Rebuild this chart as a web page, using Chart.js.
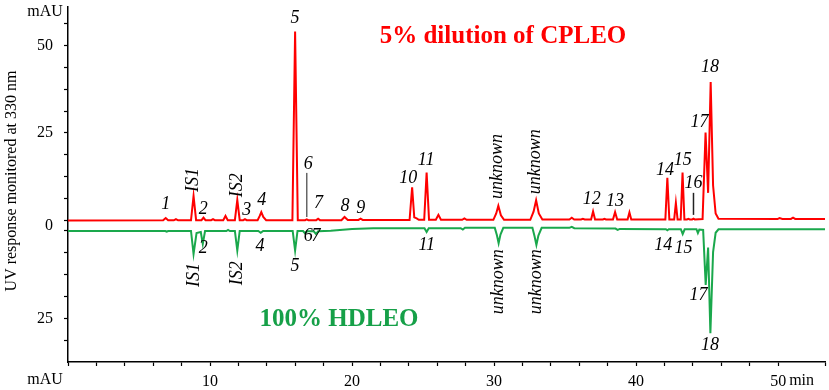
<!DOCTYPE html>
<html>
<head>
<meta charset="utf-8">
<script src="https://cdn.jsdelivr.net/npm/chart.js@4.4.1/dist/chart.umd.min.js"></script>
<style>
  html, body { margin: 0; padding: 0; background: #fff; }
  #wrap { width: 829px; height: 390px; }
</style>
</head>
<body>
<div id="wrap"><canvas id="chart" width="829" height="390"></canvas></div>
<script>
// retention time (min) and signal (mAU)
const redTime = [0, 6.70, 6.88, 7.05, 7.45, 7.6, 7.75, 8.66, 8.84, 9.02, 9.40, 9.54, 9.68, 10.08, 10.21, 10.34,
  10.93, 11.09, 11.25, 11.75, 11.92, 12.09, 12.34, 12.46, 12.58, 13.35, 13.5, 13.61, 13.75, 13.95,
  15.80, 15.99, 16.18, 16.7, 16.81, 16.92, 17.48, 17.61, 17.74, 19.25, 19.47, 19.7, 20.45, 20.6, 20.75,
  24.05, 24.23, 24.38, 24.55, 24.7, 25.08, 25.25, 25.42, 25.9, 26.08, 26.26, 27.75, 27.91, 28.07,
  29.95, 30.15, 30.3, 30.48, 30.7, 32.55, 32.78, 32.96, 33.15, 33.4, 35.3, 35.47, 35.64, 36.12, 36.25, 36.38,
  36.83, 36.97, 37.11, 37.66, 37.77, 37.88, 38.37, 38.52, 38.67, 39.40, 39.53, 39.66,
  42.06, 42.2, 42.34, 42.68, 42.8, 42.92, 43.14, 43.27, 43.40, 43.58, 43.68, 43.78, 43.95, 44.04, 44.13,
  44.68, 44.89, 45.07, 45.25, 45.42, 45.6, 45.8, 49.95, 50.1, 50.3, 50.9, 51.05, 51.2, 53.3];
const redSignal = [0, 0.05, 0.7, 0.05, 0.05, 0.4, 0.05, 0.05, 7.0, 0.1, 0.1, 0.8, 0.1, 0.1, 0.4, 0.1,
  0.1, 1.3, 0.1, 0.1, 5.9, 0.1, 0.1, 0.4, 0.1, 0.1, 1.3, 2.4, 1.0, 0.1,
  0.1, 54, 0.1, 0.1, 0.3, 0.1, 0.1, 0.5, 0.1, 0.1, 1.0, 0.15, 0.15, 0.5, 0.15,
  0.15, 9.5, 0.9, 0.6, 0.2, 0.2, 13.7, 0.2, 0.2, 1.6, 0.2, 0.2, 0.6, 0.2,
  0.2, 2.0, 4.2, 1.5, 0.2, 0.2, 2.5, 5.8, 2.0, 0.3, 0.3, 0.8, 0.3, 0.3, 0.5, 0.3,
  0.3, 2.6, 0.3, 0.3, 0.5, 0.3, 0.3, 2.4, 0.3, 0.3, 2.3, 0.3,
  0.3, 12.2, 0.3, 0.3, 5.0, 0.3, 0.3, 13.7, 0.3, 0.3, 0.5, 0.3, 0.3, 0.5, 0.3,
  0.4, 25.1, 7.9, 39.6, 10, 2.0, 0.5, 0.4, 0.7, 0.45, 0.45, 0.8, 0.45, 0.45];

// HDLEO trace, mAU measured downward from its own baseline
const greenTime = [0, 6.85, 6.95, 7.05, 8.66, 8.84, 9.05, 9.35, 9.49, 9.65, 11.15, 11.27, 11.4, 11.75, 11.92, 12.09,
  13.4, 13.57, 13.74, 15.82, 15.99, 16.16, 16.55, 16.69, 16.85, 17.3, 17.46, 17.62, 18.5, 20.0, 21.5,
  25.1, 25.25, 25.4, 27.65, 27.8, 27.95, 30.05, 30.2, 30.32, 30.45, 30.65, 32.7, 32.85, 32.98, 33.12, 33.35,
  35.3, 35.47, 35.65, 38.55, 38.7, 38.85, 42.1, 42.2, 42.3, 43.15, 43.28, 43.42, 44.25, 44.35, 44.45,
  44.72, 44.9, 45.07, 45.23, 45.42, 45.6, 45.8, 53.3];
const greenSignal = [0, 0, 0.2, 0, 0, 6.6, 0.6, 0.3, 3.7, 0, 0, -0.3, 0, 0, 5.6, 0,
  0, 0.5, 0, 0, 5.6, 0, 0, 0.65, 0.1, 0.1, 0.85, 0.1, -0.1, -0.6, -0.8,
  -0.8, 0.3, -0.8, -0.8, -0.4, -0.9, -0.9, 1.2, 3.5, 1.0, -0.9, -0.9, 1.5, 4.0, 1.3, -0.9,
  -0.9, -1.2, -0.8, -0.7, -0.3, -0.6, -0.5, -0.2, -0.5, -0.5, 0.85, -0.5, -0.5, 0.6, -0.4,
  -0.3, 15.4, 4.7, 29.2, 6, 0.5, -0.5, -0.5];

// axis ticks
const yTickValues = [56.25, 50, 43.75, 37.5, 31.25, 25, 18.75, 12.5, 6.25, 0, -1.5, -3, -9.25, -15.5, -21.75, -28, -34.25];
const yTickLabels = ['', '50', '', '', '', '25', '', '', '', '', '0', '', '', '', '', '25', ''];
const xTickLabels = {10: '10', 20: '20', 30: '30', 40: '40', 50: '50'};

// peak names: [text, time, level, rotated]
const redPeakLabels = [
  ['1', 6.88, 4.7], ['IS1', 8.82, 11.6, true], ['2', 9.53, 3.3], ['IS2', 11.92, 10.1, true],
  ['3', 12.58, 3.0], ['4', 13.64, 5.9], ['5', 15.99, 57.9], ['6', 16.92, 16.1], ['7', 17.63, 5.0],
  ['8', 19.51, 4.1], ['9', 20.61, 3.6], ['10', 23.96, 12.1], ['11', 25.21, 17.3],
  ['unknown', 30.19, 15.4, true], ['unknown', 32.89, 16.8, true], ['12', 36.88, 6.1], ['13', 38.52, 5.4],
  ['14', 42.04, 14.4], ['15', 43.29, 17.3], ['16', 44.04, 10.7], ['17', 44.46, 28.2], ['18', 45.21, 43.9]
];
const greenPeakLabels = [
  ['IS1', 8.87, -15.6, true], ['2', 9.53, -7.9], ['IS2', 11.92, -15.1, true], ['4', 13.52, -7.5],
  ['5', 15.99, -13.0], ['6', 16.92, -4.6], ['7', 17.46, -4.6], ['11', 25.26, -7.2],
  ['unknown', 30.3, -17.5, true], ['unknown', 32.96, -17.5, true], ['14', 41.92, -7.0], ['15', 43.33, -7.9],
  ['17', 44.39, -21.3], ['18', 45.21, -35.6]
];
// marker sticks: [time, from, to, colour]
const markers = [[16.81, 1.0, 13.6, '#666'], [44.04, 1.6, 7.9, '#222']];

const GREEN_SHIFT = 3.0;
const RED = 'rgb(255,0,0)';
const GREEN = 'rgb(26,168,76)';
const SERIF = '"Liberation Serif", "Times New Roman", serif';

const redData = redTime.map((t, i) => ({x: t, y: redSignal[i]}));
const greenData = greenTime.map((t, i) => ({x: t, y: -greenSignal[i] - GREEN_SHIFT}));

const extras = {
  id: 'extras',
  afterDraw(chart) {
    const {ctx, scales: {x, y}} = chart;
    ctx.save();
    markers.forEach(m => {
      ctx.strokeStyle = m[3];
      ctx.lineWidth = 1.5;
      ctx.beginPath();
      ctx.moveTo(x.getPixelForValue(m[0]), y.getPixelForValue(m[1]));
      ctx.lineTo(x.getPixelForValue(m[0]), y.getPixelForValue(m[2]));
      ctx.stroke();
    });
    ctx.fillStyle = '#000';
    ctx.font = 'italic 18px ' + SERIF;
    ctx.textAlign = 'center';
    ctx.textBaseline = 'middle';
    redPeakLabels.concat(greenPeakLabels).forEach(p => {
      const px = x.getPixelForValue(p[1]);
      const py = y.getPixelForValue(p[2]);
      if (p[3]) {
        ctx.save();
        ctx.translate(px, py);
        ctx.rotate(-Math.PI / 2);
        ctx.fillText(p[0], 0, 0);
        ctx.restore();
      } else {
        ctx.fillText(p[0], px, py);
      }
    });

    ctx.font = 'bold 25px ' + SERIF;
    ctx.fillStyle = RED;
    ctx.fillText('5% dilution of CPLEO', 503, 37);
    ctx.fillStyle = 'rgb(22,160,72)';
    ctx.fillText('100% HDLEO', 339, 320);

    ctx.fillStyle = '#000';
    ctx.font = '16px ' + SERIF;
    ctx.fillText('mAU', 45, 12);
    ctx.fillText('mAU', 45, 380);
    ctx.textAlign = 'left';
    ctx.fillText('min', x.getPixelForValue(50) + 11, 381);
    ctx.save();
    ctx.translate(12, 181);
    ctx.rotate(-Math.PI / 2);
    ctx.textAlign = 'center';
    ctx.fillText('UV response monitored at 330 nm', 0, 0);
    ctx.restore();
    ctx.restore();
  }
};

new Chart(document.getElementById('chart'), {
  type: 'line',
  data: {
    datasets: [
      {data: redData, borderColor: RED, borderWidth: 2, pointRadius: 0, tension: 0},
      {data: greenData, borderColor: GREEN, borderWidth: 2, pointRadius: 0, tension: 0}
    ]
  },
  options: {
    responsive: false,
    animation: false,
    devicePixelRatio: 1,
    layout: {padding: {top: 7, right: 4, left: 0, bottom: 0}},
    plugins: {legend: {display: false}, tooltip: {enabled: false}},
    scales: {
      x: {
        type: 'linear', min: 0, max: 53.3,
        afterFit(scale) { scale.height = 28; scale.paddingLeft = 0; scale.paddingRight = 0; },
        border: {display: true, color: '#000', width: 1.5},
        grid: {drawOnChartArea: false, drawTicks: true, tickLength: 4, tickColor: '#000', tickWidth: 1.2},
        ticks: {
          stepSize: 2, autoSkip: false, maxRotation: 0, padding: 6, color: '#000',
          font: {family: SERIF, size: 16},
          callback: v => xTickLabels[v] || ''
        }
      },
      y: {
        type: 'linear', min: -40.43, max: 61.0,
        afterFit(scale) { scale.width = 68; scale.paddingTop = 0; scale.paddingBottom = 0; },
        afterBuildTicks(scale) { scale.ticks = yTickValues.map(v => ({value: v})); },
        border: {display: true, color: '#000', width: 1.5},
        grid: {
          drawOnChartArea: false, drawTicks: true, tickLength: 4, tickWidth: 1.2,
          tickColor: c => (c.tick && c.tick.value === -1.5) ? 'rgba(0,0,0,0)' : '#000'
        },
        ticks: {
          autoSkip: false, padding: 11, color: '#000',
          font: {family: SERIF, size: 16},
          callback: (v, i) => yTickLabels[i]
        }
      }
    }
  },
  plugins: [extras]
});
</script>
</body>
</html>
